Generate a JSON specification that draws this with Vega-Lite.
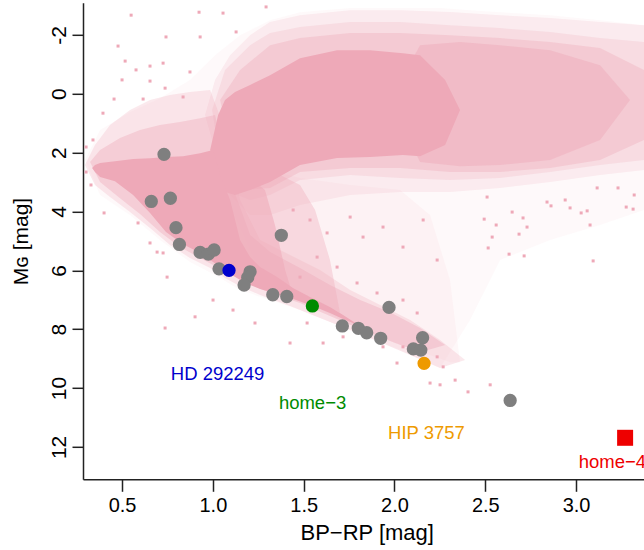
{
  "$schema": "https://vega.github.io/schema/vega-lite/v6.json",
  "width": 561,
  "height": 476.5,
  "autosize": {"type": "none"},
  "padding": {"left": 83, "top": 2.8, "right": 0, "bottom": 70},
  "background": "white",
  "config": {"view": {"stroke": null}},
  "datasets": {
    "L1": [
      {"bp": 0.296, "mg": 2.25, "mg2": 2.25}, {"bp": 0.379, "mg": 1.23, "mg2": 3.44}, {"bp": 0.544, "mg": 0.62, "mg2": 4.12},
      {"bp": 0.709, "mg": 0.15, "mg2": 4.97}, {"bp": 0.874, "mg": -0.47, "mg2": 5.72}, {"bp": 1.012, "mg": -1.31, "mg2": 6.16},
      {"bp": 1.15, "mg": -1.99, "mg2": 6.67}, {"bp": 1.315, "mg": -2.5, "mg2": 7.01}, {"bp": 1.48, "mg": -2.77, "mg2": 7.35},
      {"bp": 1.756, "mg": -2.91, "mg2": 8.03}, {"bp": 2.031, "mg": -2.91, "mg2": 8.71}, {"bp": 2.251, "mg": -2.91, "mg2": 9.32},
      {"bp": 2.416, "mg": -2.84, "mg2": 7.69}, {"bp": 2.581, "mg": -2.77, "mg2": 5.65}, {"bp": 2.857, "mg": -2.67, "mg2": 4.97},
      {"bp": 3.132, "mg": -2.5, "mg2": 4.46}, {"bp": 3.374, "mg": -2.33, "mg2": 3.95}
    ],
    "GA": [
      {"bp": 0.957, "mg": 0.72, "mg2": 0.72}, {"bp": 1.012, "mg": -0.47, "mg2": 1.91}, {"bp": 1.095, "mg": -1.31, "mg2": 3.44},
      {"bp": 1.205, "mg": -1.99, "mg2": 4.12}, {"bp": 1.315, "mg": -2.44, "mg2": 4.12}, {"bp": 1.48, "mg": -2.67, "mg2": 3.78},
      {"bp": 1.756, "mg": -2.84, "mg2": 3.44}, {"bp": 2.031, "mg": -2.84, "mg2": 3.34}, {"bp": 2.306, "mg": -2.78, "mg2": 3.34},
      {"bp": 2.581, "mg": -2.67, "mg2": 3.2}, {"bp": 2.857, "mg": -2.57, "mg2": 3.0}, {"bp": 3.132, "mg": -2.44, "mg2": 2.76},
      {"bp": 3.374, "mg": -2.33, "mg2": 2.59}
    ],
    "GB": [
      {"bp": 0.996, "mg": 0.55, "mg2": 0.55}, {"bp": 1.067, "mg": -0.81, "mg2": 3.27}, {"bp": 1.205, "mg": -1.65, "mg2": 3.61},
      {"bp": 1.315, "mg": -2.06, "mg2": 3.44}, {"bp": 1.48, "mg": -2.27, "mg2": 2.93}, {"bp": 1.756, "mg": -2.44, "mg2": 2.76},
      {"bp": 2.031, "mg": -2.44, "mg2": 2.86}, {"bp": 2.306, "mg": -2.33, "mg2": 2.93}, {"bp": 2.581, "mg": -2.23, "mg2": 2.86},
      {"bp": 2.857, "mg": -2.1, "mg2": 2.66}, {"bp": 3.132, "mg": -1.89, "mg2": 2.42}, {"bp": 3.374, "mg": -1.76, "mg2": 2.25}
    ],
    "GC": [
      {"bp": 1.04, "mg": 0.21, "mg2": 0.21}, {"bp": 1.15, "mg": -0.81, "mg2": 3.27}, {"bp": 1.315, "mg": -1.65, "mg2": 3.2},
      {"bp": 1.48, "mg": -1.89, "mg2": 2.66}, {"bp": 1.756, "mg": -2.06, "mg2": 2.52}, {"bp": 2.031, "mg": -2.06, "mg2": 2.52},
      {"bp": 2.306, "mg": -1.99, "mg2": 2.66}, {"bp": 2.581, "mg": -1.89, "mg2": 2.66}, {"bp": 2.857, "mg": -1.76, "mg2": 2.52},
      {"bp": 3.132, "mg": -1.55, "mg2": 2.25}, {"bp": 3.374, "mg": -0.81, "mg2": 1.57}
    ],
    "GD": [
      {"bp": 1.976, "mg": 0.21, "mg2": 0.21}, {"bp": 2.141, "mg": -1.65, "mg2": 2.32}, {"bp": 2.361, "mg": -1.76, "mg2": 2.46},
      {"bp": 2.581, "mg": -1.65, "mg2": 2.42}, {"bp": 2.857, "mg": -1.48, "mg2": 2.25}, {"bp": 3.132, "mg": -0.97, "mg2": 1.57},
      {"bp": 3.297, "mg": 0.21, "mg2": 0.21}
    ],
    "C": [
      {"bp": 0.985, "mg": 1.91, "mg2": 1.91}, {"bp": 1.029, "mg": 0.72, "mg2": 2.76}, {"bp": 1.067, "mg": 0.21, "mg2": 3.34},
      {"bp": 1.122, "mg": -0.06, "mg2": 3.44}, {"bp": 1.205, "mg": -0.3, "mg2": 3.27}, {"bp": 1.315, "mg": -0.63, "mg2": 3.0},
      {"bp": 1.48, "mg": -1.21, "mg2": 2.42}, {"bp": 1.684, "mg": -1.48, "mg2": 2.18}, {"bp": 1.866, "mg": -1.48, "mg2": 2.15},
      {"bp": 2.047, "mg": -1.38, "mg2": 2.08}, {"bp": 2.141, "mg": -1.31, "mg2": 2.12}, {"bp": 2.279, "mg": -0.47, "mg2": 1.74},
      {"bp": 2.361, "mg": 0.55, "mg2": 0.55}
    ],
    "MA": [
      {"bp": 0.296, "mg": 2.42, "mg2": 2.42}, {"bp": 0.351, "mg": 1.74, "mg2": 3.1}, {"bp": 0.434, "mg": 1.06, "mg2": 3.51},
      {"bp": 0.544, "mg": 0.55, "mg2": 4.02}, {"bp": 0.654, "mg": 0.21, "mg2": 4.56}, {"bp": 0.764, "mg": 0.04, "mg2": 5.14},
      {"bp": 0.874, "mg": -0.06, "mg2": 5.58}, {"bp": 0.985, "mg": -0.13, "mg2": 5.92}, {"bp": 1.067, "mg": 1.23, "mg2": 6.26},
      {"bp": 1.15, "mg": 3.61, "mg2": 6.54}, {"bp": 1.26, "mg": 4.97, "mg2": 6.84}, {"bp": 1.425, "mg": 5.48, "mg2": 7.21},
      {"bp": 1.59, "mg": 5.99, "mg2": 7.62}, {"bp": 1.756, "mg": 6.67, "mg2": 8.03}, {"bp": 1.921, "mg": 7.18, "mg2": 8.44},
      {"bp": 2.086, "mg": 7.69, "mg2": 8.88}, {"bp": 2.251, "mg": 8.37, "mg2": 9.32}, {"bp": 2.389, "mg": 9.05, "mg2": 9.05}
    ],
    "MB": [
      {"bp": 0.324, "mg": 2.32, "mg2": 2.32}, {"bp": 0.379, "mg": 1.91, "mg2": 3.0}, {"bp": 0.489, "mg": 1.5, "mg2": 3.55},
      {"bp": 0.599, "mg": 1.23, "mg2": 4.09}, {"bp": 0.709, "mg": 1.06, "mg2": 4.7}, {"bp": 0.819, "mg": 0.96, "mg2": 5.21},
      {"bp": 0.93, "mg": 0.83, "mg2": 5.58}, {"bp": 1.012, "mg": 0.72, "mg2": 5.85}, {"bp": 1.095, "mg": 2.93, "mg2": 6.13},
      {"bp": 1.205, "mg": 4.8, "mg2": 6.47}, {"bp": 1.315, "mg": 5.38, "mg2": 6.77}, {"bp": 1.48, "mg": 5.92, "mg2": 7.11},
      {"bp": 1.645, "mg": 6.5, "mg2": 7.55}, {"bp": 1.811, "mg": 7.01, "mg2": 7.99}, {"bp": 1.976, "mg": 7.42, "mg2": 8.4},
      {"bp": 2.141, "mg": 7.96, "mg2": 8.78}, {"bp": 2.279, "mg": 8.54, "mg2": 8.54}
    ],
    "SG1": [
      {"bp": 0.985, "mg": 2.25, "mg2": 2.25}, {"bp": 1.26, "mg": 2.52, "mg2": 6.06}, {"bp": 1.48, "mg": 2.86, "mg2": 6.94},
      {"bp": 1.756, "mg": 3.1, "mg2": 7.86}, {"bp": 2.031, "mg": 3.27, "mg2": 8.54}, {"bp": 2.196, "mg": 4.12, "mg2": 8.88},
      {"bp": 2.306, "mg": 6.33, "mg2": 9.12}, {"bp": 2.361, "mg": 9.12, "mg2": 9.12}
    ],
    "SG2": [
      {"bp": 0.996, "mg": 2.25, "mg2": 2.25}, {"bp": 1.095, "mg": 2.42, "mg2": 4.46}, {"bp": 1.205, "mg": 2.59, "mg2": 5.72},
      {"bp": 1.37, "mg": 2.76, "mg2": 6.33}, {"bp": 1.48, "mg": 3.1, "mg2": 6.74}, {"bp": 1.563, "mg": 3.95, "mg2": 7.01},
      {"bp": 1.645, "mg": 5.65, "mg2": 7.25}, {"bp": 1.7, "mg": 7.45, "mg2": 7.45}
    ],
    "SG3": [
      {"bp": 1.001, "mg": 2.08, "mg2": 2.08}, {"bp": 1.067, "mg": 2.42, "mg2": 4.12}, {"bp": 1.15, "mg": 2.76, "mg2": 5.14},
      {"bp": 1.232, "mg": 3.0, "mg2": 5.82}, {"bp": 1.287, "mg": 3.27, "mg2": 6.06}, {"bp": 1.342, "mg": 4.46, "mg2": 6.23},
      {"bp": 1.398, "mg": 5.99, "mg2": 6.43}, {"bp": 1.425, "mg": 6.54, "mg2": 6.54}
    ],
    "S": [
      {"bp": 0.335, "mg": 2.52, "mg2": 2.52}, {"bp": 0.351, "mg": 2.42, "mg2": 2.66}, {"bp": 0.379, "mg": 2.35, "mg2": 2.83},
      {"bp": 0.461, "mg": 2.29, "mg2": 2.97}, {"bp": 0.561, "mg": 2.22, "mg2": 3.44}, {"bp": 0.654, "mg": 2.19, "mg2": 4.05},
      {"bp": 0.742, "mg": 2.15, "mg2": 4.7}, {"bp": 0.836, "mg": 2.12, "mg2": 5.11}, {"bp": 0.93, "mg": 2.02, "mg2": 5.41},
      {"bp": 1.001, "mg": 1.91, "mg2": 5.72}, {"bp": 1.04, "mg": 2.76, "mg2": 5.89}, {"bp": 1.095, "mg": 3.61, "mg2": 6.12},
      {"bp": 1.15, "mg": 4.97, "mg2": 6.33}, {"bp": 1.205, "mg": 5.55, "mg2": 6.5}, {"bp": 1.26, "mg": 5.89, "mg2": 6.63},
      {"bp": 1.354, "mg": 6.23, "mg2": 6.8}, {"bp": 1.442, "mg": 6.6, "mg2": 6.97}, {"bp": 1.535, "mg": 6.91, "mg2": 7.18},
      {"bp": 1.645, "mg": 7.25, "mg2": 7.45}, {"bp": 1.717, "mg": 7.52, "mg2": 7.65}, {"bp": 1.811, "mg": 7.89, "mg2": 7.89}
    ],
    "speckle": [
      {"bp": 0.55, "mg": -2.67}, {"bp": 0.924, "mg": -2.77}, {"bp": 0.742, "mg": -1.93}, {"bp": 0.478, "mg": -1.62},
      {"bp": 0.93, "mg": -1.93}, {"bp": 0.517, "mg": -1.11}, {"bp": 0.726, "mg": -1.04}, {"bp": 0.654, "mg": -0.94},
      {"bp": 0.577, "mg": -0.81}, {"bp": 0.874, "mg": -0.74}, {"bp": 0.5, "mg": -0.47}, {"bp": 0.654, "mg": -0.43},
      {"bp": 0.737, "mg": -0.19}, {"bp": 0.456, "mg": 0.18}, {"bp": 0.616, "mg": 0.18}, {"bp": 0.836, "mg": 0.11},
      {"bp": 0.395, "mg": 0.66}, {"bp": 0.34, "mg": 1.57}, {"bp": 0.302, "mg": 1.81}, {"bp": 0.302, "mg": 2.66},
      {"bp": 0.329, "mg": 3.1}, {"bp": 0.401, "mg": 4.05}, {"bp": 0.588, "mg": 4.39}, {"bp": 0.654, "mg": 5.07},
      {"bp": 0.726, "mg": 5.41}, {"bp": 1.056, "mg": -2.74}, {"bp": 1.128, "mg": -2.1}, {"bp": 1.293, "mg": -2.95},
      {"bp": 0.693, "mg": 5.38}, {"bp": 0.748, "mg": 6.23}, {"bp": 0.737, "mg": 7.96}, {"bp": 0.902, "mg": 7.58},
      {"bp": 1.001, "mg": 7.01}, {"bp": 1.111, "mg": 7.35}, {"bp": 1.232, "mg": 7.79}, {"bp": 1.425, "mg": 8.47},
      {"bp": 1.519, "mg": 7.79}, {"bp": 1.607, "mg": 8.47}, {"bp": 1.717, "mg": 8.26}, {"bp": 1.937, "mg": 8.6},
      {"bp": 2.014, "mg": 9.15}, {"bp": 2.047, "mg": 8.6}, {"bp": 2.196, "mg": 9.83}, {"bp": 2.251, "mg": 9.89},
      {"bp": 2.268, "mg": 9.28}, {"bp": 2.235, "mg": 8.94}, {"bp": 1.442, "mg": 3.95}, {"bp": 1.535, "mg": 4.29},
      {"bp": 1.629, "mg": 4.73}, {"bp": 1.756, "mg": 4.19}, {"bp": 1.827, "mg": 4.87}, {"bp": 1.937, "mg": 4.53},
      {"bp": 2.047, "mg": 5.21}, {"bp": 2.158, "mg": 4.29}, {"bp": 2.235, "mg": 5.65}, {"bp": 1.794, "mg": 6.43},
      {"bp": 1.904, "mg": 6.77}, {"bp": 2.047, "mg": 7.01}, {"bp": 2.125, "mg": 7.45}, {"bp": 1.684, "mg": 5.89},
      {"bp": 1.574, "mg": 5.55}, {"bp": 1.48, "mg": 6.23}, {"bp": 2.51, "mg": 3.51}, {"bp": 2.648, "mg": 4.02},
      {"bp": 2.708, "mg": 4.22}, {"bp": 2.494, "mg": 4.26}, {"bp": 2.56, "mg": 4.46}, {"bp": 2.73, "mg": 4.53},
      {"bp": 2.538, "mg": 4.87}, {"bp": 2.686, "mg": 4.77}, {"bp": 2.516, "mg": 5.24}, {"bp": 2.631, "mg": 5.45},
      {"bp": 2.714, "mg": 5.51}, {"bp": 2.862, "mg": 3.81}, {"bp": 2.967, "mg": 3.88}, {"bp": 3.028, "mg": 4.05},
      {"bp": 3.077, "mg": 4.46}, {"bp": 3.061, "mg": 3.98}, {"bp": 3.094, "mg": 5.68}, {"bp": 3.276, "mg": 3.85},
      {"bp": 3.314, "mg": 3.92}, {"bp": 3.32, "mg": 3.44}, {"bp": 3.231, "mg": 3.2}, {"bp": 3.116, "mg": 3.2},
      {"bp": 2.94, "mg": 3.61}, {"bp": 2.84, "mg": 3.68}, {"bp": 2.334, "mg": 9.73}, {"bp": 2.405, "mg": 10.13},
      {"bp": 2.527, "mg": 9.89}
    ],
    "comparison": [
      {"bp": 0.731, "mg": 2.06}, {"bp": 0.661, "mg": 3.66}, {"bp": 0.766, "mg": 3.55}, {"bp": 0.797, "mg": 4.55},
      {"bp": 0.816, "mg": 5.12}, {"bp": 0.93, "mg": 5.39}, {"bp": 0.975, "mg": 5.45}, {"bp": 1.007, "mg": 5.31},
      {"bp": 1.034, "mg": 5.95}, {"bp": 1.377, "mg": 4.81}, {"bp": 1.205, "mg": 6.05}, {"bp": 1.192, "mg": 6.24},
      {"bp": 1.172, "mg": 6.5}, {"bp": 1.33, "mg": 6.83}, {"bp": 1.407, "mg": 6.89}, {"bp": 1.713, "mg": 7.89},
      {"bp": 1.801, "mg": 7.97}, {"bp": 1.847, "mg": 8.12}, {"bp": 1.924, "mg": 8.31}, {"bp": 1.97, "mg": 7.26},
      {"bp": 2.155, "mg": 8.29}, {"bp": 2.104, "mg": 8.67}, {"bp": 2.145, "mg": 8.71}, {"bp": 2.637, "mg": 10.42}
    ],
    "targets": [
      {"bp": 1.089, "mg": 6.0, "name": "HD 292249", "c": "#0000CD", "shape": "circle", "s": 177, "lx": 1.026, "ly": 9.73},
      {"bp": 1.548, "mg": 7.21, "name": "home−3", "c": "#008B00", "shape": "circle", "s": 177, "lx": 1.549, "ly": 10.72},
      {"bp": 2.163, "mg": 9.16, "name": "HIP 3757", "c": "#EE9A00", "shape": "circle", "s": 177, "lx": 2.176, "ly": 11.74},
      {"bp": 3.27, "mg": 11.69, "name": "home−4", "c": "#EE0000", "shape": "square", "s": 256, "lx": 3.2, "ly": 12.72}
    ]
  },
  "encoding": {
    "x": {
      "field": "bp", "type": "quantitative",
      "scale": {"domain": [0.285, 3.374], "nice": false, "zero": false},
      "axis": {
        "values": [0.5, 1, 1.5, 2, 2.5, 3], "format": ".1f", "grid": false,
        "domainColor": "#222222", "domainWidth": 1.5, "tickColor": "#222222", "tickWidth": 1.5, "tickSize": 12,
        "labelFont": "Liberation Sans", "labelFontSize": 20, "labelColor": "#000000", "labelPadding": 20.7,
        "labelBaseline": "alphabetic", "labelFlush": false, "labelOverlap": false,
        "title": "BP−RP [mag]", "titleFont": "Liberation Sans", "titleFontSize": 22, "titleFontWeight": "normal",
        "titleColor": "#000000", "titleX": 283.7, "titleY": 60.7, "titleBaseline": "alphabetic", "titleAlign": "center"
      }
    },
    "y": {
      "field": "mg", "type": "quantitative",
      "scale": {"domain": [-3.09, 13.1], "nice": false, "zero": false, "reverse": true},
      "axis": {
        "values": [-2, 0, 2, 4, 6, 8, 10, 12], "labelExpr": "'' + datum.value", "grid": false,
        "domainColor": "#222222", "domainWidth": 1.5, "tickColor": "#222222", "tickWidth": 1.5, "tickSize": 11,
        "labelFont": "Liberation Sans", "labelFontSize": 21, "labelColor": "#000000", "labelAngle": 270,
        "labelAlign": "center", "labelBaseline": "alphabetic", "labelPadding": 7, "labelFlush": false, "labelOverlap": false,
        "title": "Mɢ [mag]", "titleFont": "Liberation Sans", "titleFontSize": 21, "titleFontWeight": "normal",
        "titleColor": "#000000", "titleAngle": 270, "titleX": -56, "titleY": 238.3, "titleBaseline": "alphabetic", "titleAlign": "center"
      }
    }
  },
  "layer": [
    {"data": {"name": "L1"}, "mark": {"type": "area", "color": "#EEA9B8", "opacity": 0.07, "clip": true}, "encoding": {"y2": {"field": "mg2"}}},
    {"data": {"name": "GA"}, "mark": {"type": "area", "color": "#EEA9B8", "opacity": 0.17, "clip": true}, "encoding": {"y2": {"field": "mg2"}}},
    {"data": {"name": "GB"}, "mark": {"type": "area", "color": "#EEA9B8", "opacity": 0.22, "clip": true}, "encoding": {"y2": {"field": "mg2"}}},
    {"data": {"name": "MA"}, "mark": {"type": "area", "color": "#EEA9B8", "opacity": 0.25, "clip": true}, "encoding": {"y2": {"field": "mg2"}}},
    {"data": {"name": "MB"}, "mark": {"type": "area", "color": "#EEA9B8", "opacity": 0.4, "clip": true}, "encoding": {"y2": {"field": "mg2"}}},
    {"data": {"name": "SG1"}, "mark": {"type": "area", "color": "#EEA9B8", "opacity": 0.08, "clip": true}, "encoding": {"y2": {"field": "mg2"}}},
    {"data": {"name": "SG2"}, "mark": {"type": "area", "color": "#EEA9B8", "opacity": 0.35, "clip": true}, "encoding": {"y2": {"field": "mg2"}}},
    {"data": {"name": "SG3"}, "mark": {"type": "area", "color": "#EEA9B8", "opacity": 0.55, "clip": true}, "encoding": {"y2": {"field": "mg2"}}},
    {"data": {"name": "GC"}, "mark": {"type": "area", "color": "#EEA9B8", "opacity": 0.35, "clip": true}, "encoding": {"y2": {"field": "mg2"}}},
    {"data": {"name": "GD"}, "mark": {"type": "area", "color": "#EEA9B8", "opacity": 0.45, "clip": true}, "encoding": {"y2": {"field": "mg2"}}},
    {"data": {"name": "C"}, "mark": {"type": "area", "color": "#EEA9B8", "opacity": 1, "clip": true}, "encoding": {"y2": {"field": "mg2"}}},
    {"data": {"name": "S"}, "mark": {"type": "area", "color": "#EEA9B8", "opacity": 1, "clip": true}, "encoding": {"y2": {"field": "mg2"}}},
    {"data": {"name": "speckle"}, "mark": {"type": "square", "size": 9, "color": "#EEA9B8", "opacity": 1}},
    {"data": {"values": [{}]}, "mark": {"type": "rule", "color": "#222222", "strokeWidth": 1.5}, "encoding": {"x": {"datum": 0.285}, "x2": {"datum": 3.374}, "y": {"datum": -3.09}}},
    {"data": {"name": "comparison"}, "mark": {"type": "circle", "size": 177, "color": "#7F7F7F", "opacity": 1}},
    {"data": {"name": "targets"}, "mark": {"type": "point", "filled": true, "opacity": 1, "strokeWidth": 0},
     "encoding": {"color": {"field": "c", "type": "nominal", "scale": null}, "shape": {"field": "shape", "type": "nominal", "scale": null}, "size": {"field": "s", "type": "quantitative", "scale": null}}},
    {"data": {"name": "targets"}, "mark": {"type": "text", "font": "Liberation Sans", "fontSize": 18.5, "baseline": "alphabetic", "align": "center"},
     "encoding": {"x": {"field": "lx", "type": "quantitative"}, "y": {"field": "ly", "type": "quantitative"}, "text": {"field": "name"}, "color": {"field": "c", "type": "nominal", "scale": null}}}
  ]
}
